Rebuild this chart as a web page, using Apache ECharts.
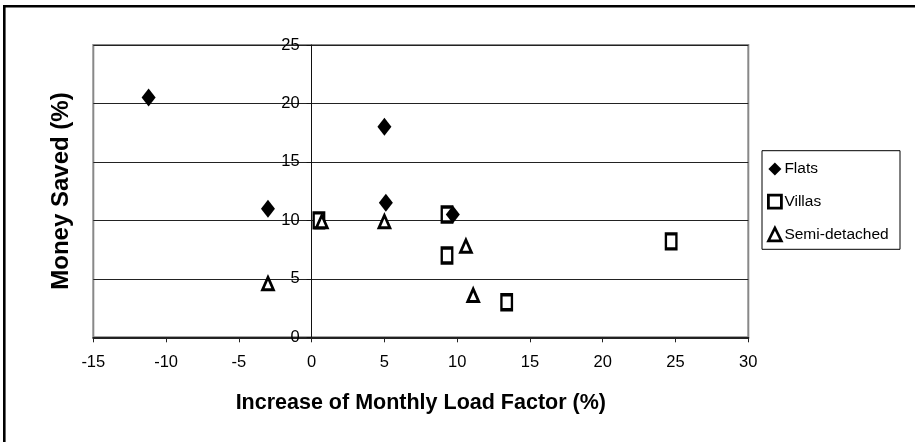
<!DOCTYPE html>
<html>
<head>
<meta charset="utf-8">
<script src="https://cdn.jsdelivr.net/npm/echarts@6/dist/echarts.min.js"></script>
<style>
  html, body { margin: 0; padding: 0; background: #fff; }
  #chart { width: 915px; height: 442px; }
</style>
</head>
<body>
<div id="chart"></div>
<script>
// Increase of monthly load factor (%) vs money saved (%), per dwelling type
const seriesNames = ['Flats', 'Villas', 'Semi-detached'];
const flatsX = [-11.2, -3.0, 5.0, 5.1, 9.7];
const flatsY = [20.5, 11.0, 18.0, 11.5, 10.5];
const villasX = [0.5, 9.3, 9.3, 13.4, 24.7];
const villasY = [10.0, 10.5, 7.0, 3.0, 8.2];
const semiX = [0.7, -3.0, 5.0, 10.6, 11.1];
const semiY = [9.9, 4.6, 9.9, 7.8, 3.6];
const xTicks = [-15, -10, -5, 0, 5, 10, 15, 20, 25, 30];
const yTicks = [0, 5, 10, 15, 20, 25];
const xTitle = 'Increase of Monthly Load Factor (%)';
const yTitle = 'Money Saved (%)';

const FONT = '"Liberation Sans", Arial, sans-serif';
const GRID_LEFT = 93.3;
const pairs = (xs, ys) => xs.map((x, i) => [x, ys[i]]);

const chart = echarts.init(document.getElementById('chart'), null, { renderer: 'canvas' });

const hollow = { color: '#ffffff', borderColor: '#000000', borderWidth: 2.8, opacity: 1 };

chart.setOption({
  animation: false,
  backgroundColor: '#ffffff',
  grid: {
    left: GRID_LEFT, right: 166.7, top: 45, bottom: 104.7,
    show: true, borderColor: '#888888', borderWidth: 2, backgroundColor: 'transparent'
  },
  xAxis: {
    type: 'value',
    min: xTicks[0], max: xTicks[xTicks.length - 1], interval: 5,
    name: xTitle,
    nameLocation: 'middle',
    nameGap: 55,
    nameTextStyle: { fontFamily: FONT, fontSize: 21.5, fontWeight: 'bold', color: '#000' },
    axisLine: { show: true, lineStyle: { color: '#222', width: 2 } },
    axisTick: { show: true, inside: false, length: 5, lineStyle: { color: '#222', width: 1 } },
    axisLabel: { fontFamily: FONT, fontSize: 16.5, color: '#000', margin: 17 },
    splitLine: { show: false }
  },
  yAxis: {
    type: 'value',
    min: yTicks[0], max: yTicks[yTicks.length - 1], interval: 5,
    offset: 0,
    axisLine: { show: true, onZero: false, lineStyle: { color: '#111', width: 1 } },
    axisTick: { show: true, inside: false, length: 5, lineStyle: { color: '#111', width: 1 } },
    axisLabel: { fontFamily: FONT, fontSize: 16.5, color: '#000', margin: 12 },
    splitLine: { show: true, lineStyle: { color: '#222', width: 1.2 } }
  },
  legend: {
    orient: 'vertical',
    left: 767, top: 161,
    padding: 0,
    itemGap: 16.7,
    itemWidth: 13, itemHeight: 13,
    textStyle: { fontFamily: FONT, fontSize: 15.5, color: '#000', padding: [0, 0, 0, -2] },
    data: [
      { name: seriesNames[0], icon: 'diamond', itemStyle: { color: '#000', borderWidth: 0, opacity: 1 } },
      { name: seriesNames[1], icon: 'rect', itemStyle: { color: '#fff', borderColor: '#000', borderWidth: 2.8, opacity: 1 } },
      { name: seriesNames[2], icon: 'triangle', itemStyle: { color: '#fff', borderColor: '#000', borderWidth: 2.6, opacity: 1 } }
    ]
  },
  graphic: [
    {
      type: 'line', silent: true, z: 0,
      shape: { x1: 3, y1: 6.2, x2: 915, y2: 6.2 },
      style: { stroke: '#000', lineWidth: 2.6 }
    },
    {
      type: 'line', silent: true, z: 0,
      shape: { x1: 4.3, y1: 5, x2: 4.3, y2: 442 },
      style: { stroke: '#000', lineWidth: 2.6 }
    },
    {
      type: 'rect', silent: true, z: 0,
      shape: { x: 762, y: 150.7, width: 138, height: 98.6 },
      style: { fill: 'none', stroke: '#000', lineWidth: 1 }
    },
    {
      type: 'text', silent: true,
      x: 61, y: 191, rotation: Math.PI / 2,
      style: {
        text: yTitle, font: 'bold 24px ' + FONT, fill: '#000',
        align: 'center', verticalAlign: 'middle'
      }
    }
  ],
  series: [
    {
      name: seriesNames[0], type: 'scatter', symbol: 'diamond', symbolSize: [14, 18],
      itemStyle: { color: '#000', borderWidth: 0, opacity: 1 },
      data: pairs(flatsX, flatsY), z: 3
    },
    {
      name: seriesNames[1], type: 'scatter', symbol: 'rect', symbolSize: [10.5, 15],
      itemStyle: hollow,
      data: pairs(villasX, villasY), z: 2
    },
    {
      name: seriesNames[2], type: 'scatter', symbol: 'triangle', symbolSize: [11, 12.5],
      itemStyle: hollow,
      data: pairs(semiX, semiY), z: 2
    }
  ]
});

// Move the value axis (line, ticks and labels) to cross the x axis at zero
const zeroPx = chart.convertToPixel({ xAxisIndex: 0 }, 0);
chart.setOption({ yAxis: { offset: -(zeroPx - GRID_LEFT) } });
</script>
</body>
</html>
